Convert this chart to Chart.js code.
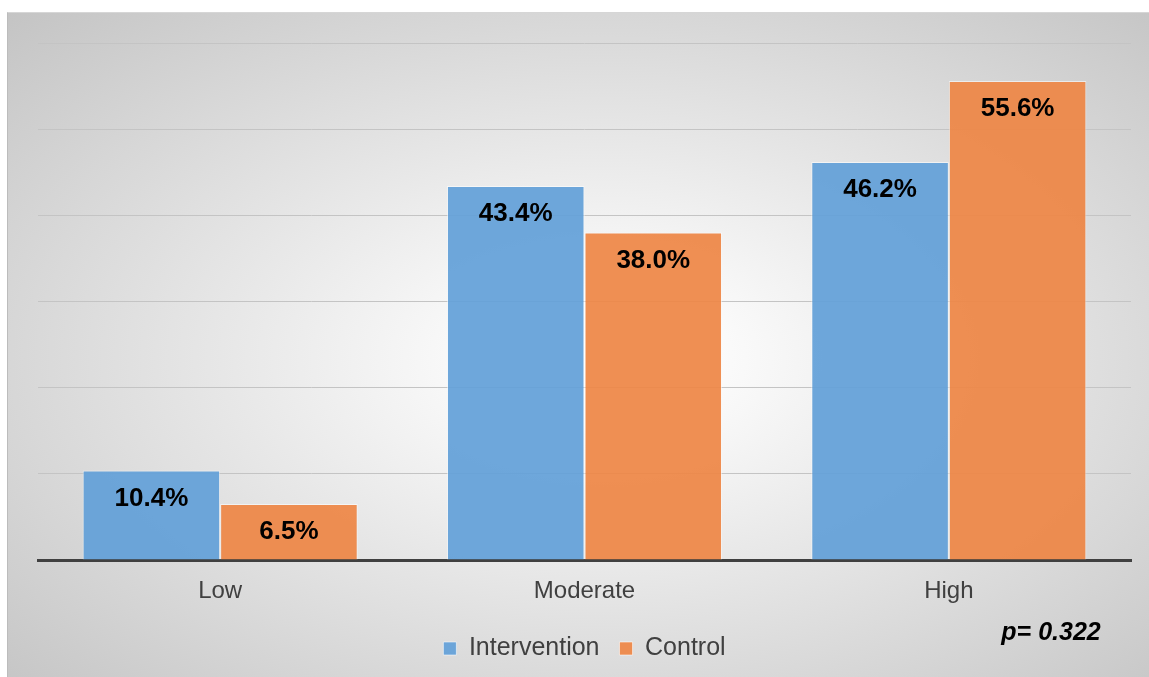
<!DOCTYPE html>
<html>
<head>
<meta charset="utf-8">
<script src="https://cdn.jsdelivr.net/npm/chart.js@4"></script>
<style>
  html, body { margin: 0; padding: 0; background: #ffffff; }
  #panel {
    position: absolute;
    left: 7px;
    top: 12px;
    width: 1142px;
    height: 665px;
    border-left: 1px solid #bcbcbc;
    border-top: 1px solid #d6d6d6;
    box-sizing: border-box;
    background: radial-gradient(ellipse at 52% 52%, #ffffff 0%, #fbfbfb 14%, #c4c4c4 100%);
  }
  #wrap { position: absolute; left: -1px; top: -1px; width: 1142px; height: 665px; }
</style>
</head>
<body>
<div id="panel">
  <div id="wrap"><canvas id="myChart"></canvas></div>
</div>
<script>
var categories = ['Low', 'Moderate', 'High'];
var intervention = [10.4, 43.4, 46.2];
var control = [6.5, 38.0, 55.6];
var pValueText = 'p= 0.322';

// percent labels inside the top of each bar, plus the p-value note
var barLabels = {
    id: 'barLabels',
    afterDatasetsDraw: function (chart) {
        var ctx = chart.ctx;
        ctx.save();
        ctx.fillStyle = '#000000';
        ctx.font = 'bold 26px "Liberation Sans", Arial, sans-serif';
        ctx.textAlign = 'center';
        ctx.textBaseline = 'middle';
        chart.data.datasets.forEach(function (ds, i) {
            chart.getDatasetMeta(i).data.forEach(function (bar, j) {
                ctx.fillText(ds.data[j].toFixed(1) + '%', bar.x, bar.y + 28);
            });
        });
        ctx.font = 'italic bold 25px "Liberation Sans", Arial, sans-serif';
        ctx.fillText(pValueText, chart.chartArea.right - 80, chart.chartArea.bottom + 73);
        ctx.restore();
    }
};

var ctx = document.getElementById('myChart').getContext('2d');
var myChart = new Chart(ctx, {
    type: 'bar',
    data: {
        labels: categories,
        datasets: [{
            label: 'Intervention',
            data: intervention,
            backgroundColor: 'rgba(98, 160, 216, 0.92)',
            borderColor: 'rgba(255, 255, 255, 0.55)',
            borderWidth: 1
        },
        {
            label: 'Control',
            data: control,
            backgroundColor: 'rgba(238, 134, 68, 0.92)',
            borderColor: 'rgba(255, 255, 255, 0.55)',
            borderWidth: 1
        }]
    },
    options: {
        responsive: true,
        maintainAspectRatio: false,
        animation: false,
        categoryPercentage: 0.755,
        barPercentage: 1.0,
        layout: {
            padding: { left: 31, right: 18, top: 31, bottom: 6 }
        },
        plugins: {
            legend: {
                position: 'bottom',
                labels: {
                    boxWidth: 13,
                    boxHeight: 13,
                    padding: 20,
                    color: '#404040',
                    font: { family: '"Liberation Sans", Arial, sans-serif', size: 25 }
                }
            },
            tooltip: { enabled: false }
        },
        scales: {
            x: {
                grid: { display: false, drawTicks: false },
                border: { display: true, color: '#404040', width: 3 },
                ticks: {
                    color: '#404040',
                    padding: 16,
                    font: { family: '"Liberation Sans", Arial, sans-serif', size: 24, lineHeight: 1.25 }
                },
                afterFit: function (scale) {
                    // tighten the band between the category names and the legend
                    scale.height -= 6;
                }
            },
            y: {
                min: 0,
                max: 60,
                ticks: { display: false, stepSize: 10 },
                grid: { color: '#c4c4c4', lineWidth: 1, drawTicks: false },
                border: { display: false }
            }
        }
    },
    plugins: [barLabels]
});
</script>
</body>
</html>
